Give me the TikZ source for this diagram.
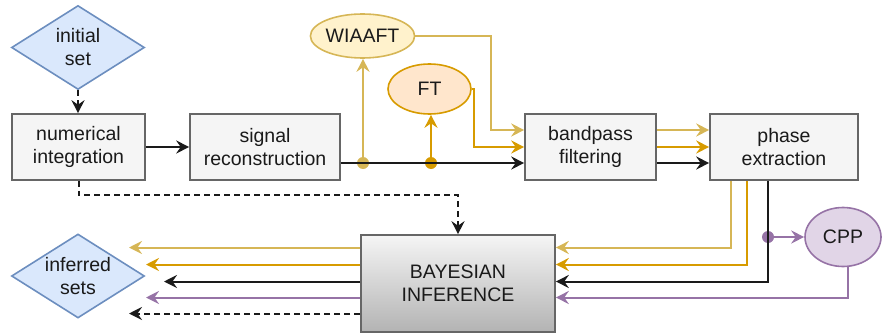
\documentclass[tikz,border=0pt]{standalone}
\usepackage{fontspec}
\setmainfont{Liberation Sans}
\usetikzlibrary{shapes.geometric,arrows.meta,calc}
\definecolor{boxfill}{HTML}{F5F5F5}
\definecolor{boxline}{HTML}{666666}
\definecolor{shadebot}{HTML}{B3B3B3}
\definecolor{diafill}{HTML}{DAE8FC}
\definecolor{dialine}{HTML}{6C8EBF}
\definecolor{wfill}{HTML}{FFF2CC}
\definecolor{wline}{HTML}{D6B656}
\definecolor{ffill}{HTML}{FFE6CC}
\definecolor{fline}{HTML}{D79B00}
\definecolor{pfill}{HTML}{E1D5E7}
\definecolor{pline}{HTML}{9673A6}
\definecolor{ink}{HTML}{1A1A1A}

\begin{document}
\begin{tikzpicture}[x=1pt,y=-1pt,
  font=\fontsize{19.5}{23}\selectfont,
  every node/.style={align=center, inner sep=0pt, text=ink},
  box/.style={rectangle, draw=boxline, fill=boxfill, line width=1.6pt, minimum height=66pt},
  dia/.style={diamond, draw=dialine, fill=diafill, line width=1.6pt, aspect=1.6,
              minimum width=133pt, minimum height=84pt},
  oval/.style={ellipse, line width=1.6pt},
  link/.style={line width=2pt, draw=ink, -{Stealth[length=13pt,width=13pt,inset=4.5pt]}},
  dashlink/.style={link, dash pattern=on 6pt off 4pt},
  dot/.style={circle, minimum size=12pt},
]
\useasboundingbox (0,0) rectangle (882,334);

% blocks
\node[dia] (init) at (78,47.5) {initial\\set};
\node[box, minimum width=133pt] (ni) at (78.5,147) {numerical\\integration};
\node[box, minimum width=150pt] (sr) at (265,147) {signal\\reconstruction};
\node[box, minimum width=131pt] (bp) at (590.5,147) {bandpass\\filtering};
\node[box, minimum width=148pt] (pe) at (784,147) {phase\\extraction};
\node[box, minimum width=194pt, minimum height=97pt,
      top color=boxfill, bottom color=shadebot] (bi) at (458,283.5) {BAYESIAN\\INFERENCE};
\node[oval, draw=wline, fill=wfill, minimum width=89pt, minimum height=44pt] (wi) at (362.5,36) {WIAAFT};
\node[oval, draw=fline, fill=ffill, minimum width=83pt, minimum height=50pt] (ft) at (429.5,89) {FT};
\node[oval, draw=pline, fill=pfill, minimum width=76pt, minimum height=59pt] (cpp) at (843,237) {CPP};
\node[dia] (inf) at (78,276) {inferred\\sets};

% branch points
\node[dot, fill=wline] (dw) at (363,163) {};
\node[dot, fill=fline] (df) at (431,163) {};
\node[dot, fill=pline] (dp) at (768,237) {};

% free ends of the outputs
\coordinate (e1) at (129,247.5);
\coordinate (e2) at (146,264.5);
\coordinate (e3) at (164,281.5);
\coordinate (e4) at (146,297.5);
\coordinate (e5) at (129,313.5);

% main chain
\draw[dashlink] (init.south) -- (init.south |- ni.north);
\draw[link] (ni.east) -- (sr.west);
\draw[link] (sr.east |- dw) -- (bp.west |- dw);
\draw[link, draw=wline, wline] (dw) -- (dw |- wi.south);
\draw[link, draw=fline, fline] (df) -- (df |- ft.south);
\draw[link, draw=wline, wline] (wi.east) -| ($(bp.west)+(-33,-17)$) -- ($(bp.west)+(0,-17)$);
\draw[link, draw=fline, fline] (ft.east) -| ($(bp.west)+(-50,0)$) -- (bp.west);

% bandpass to phase extraction
\draw[link, draw=wline, wline] ($(bp.east)+(0,-17)$) -- ($(pe.west)+(0,-17)$);
\draw[link, draw=fline, fline] (bp.east) -- (pe.west);
\draw[link] ($(bp.east)+(0,16)$) -- ($(pe.west)+(0,16)$);

% phase extraction to inference
\draw[link, draw=wline, wline] ($(pe.south)+(-53,0)$) |- ($(bi.east)+(0,-36)$);
\draw[link, draw=fline, fline] ($(pe.south)+(-37,0)$) |- ($(bi.east)+(0,-19)$);
\draw[link] ($(pe.south)+(-16,0)$) |- ($(bi.east)+(0,-2)$);
\draw[link, draw=pline, pline] (dp) -- (cpp.west);
\draw[link, draw=pline, pline] ($(cpp.south)+(5,0)$) |- ($(bi.east)+(0,14)$);
\draw[dashlink] (ni.south) |- ($(bi.north)+(0,-39)$) -- (bi.north);

% inference outputs
\draw[link, draw=wline, wline] ($(bi.west)+(0,-36)$) -- (e1);
\draw[link, draw=fline, fline] ($(bi.west)+(0,-19)$) -- (e2);
\draw[link] ($(bi.west)+(0,-2)$) -- (e3);
\draw[link, draw=pline, pline] ($(bi.west)+(0,14)$) -- (e4);
\draw[dashlink] ($(bi.west)+(0,30)$) -- (e5);
\end{tikzpicture}
\end{document}
